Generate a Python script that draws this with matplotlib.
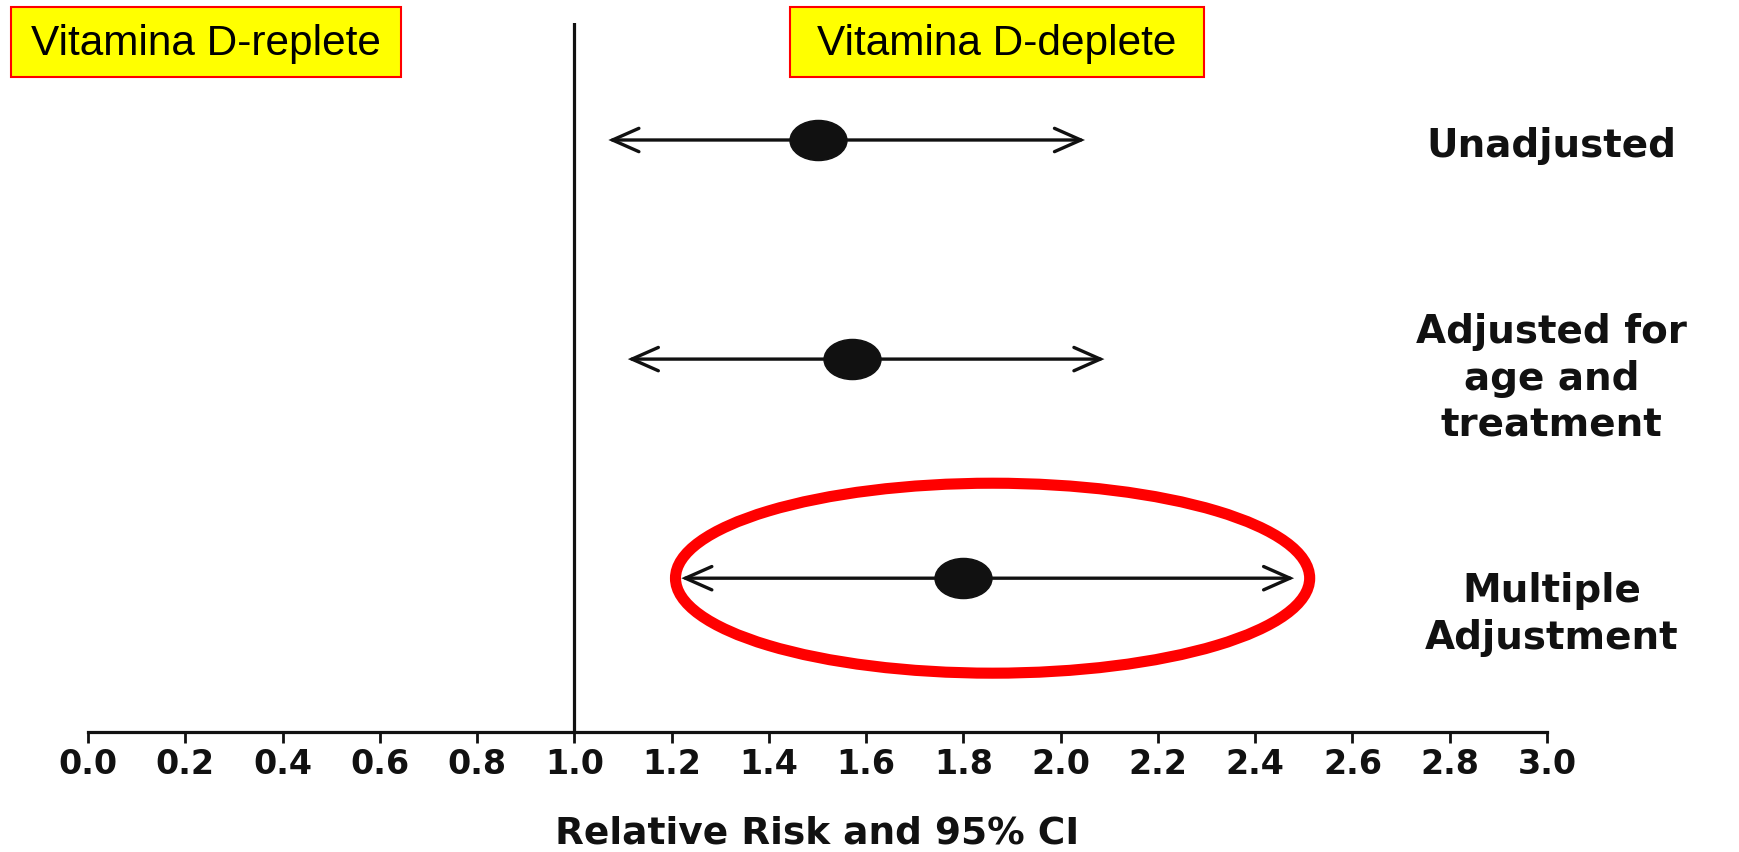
import matplotlib
matplotlib.use("Agg")
import matplotlib.pyplot as plt
from matplotlib.patches import Ellipse, Rectangle, FancyArrowPatch
from matplotlib.path import Path
from matplotlib.transforms import Affine2D

# ---- data ----
row_labels = ["Unadjusted", "Adjusted for\nage and\ntreatment", "Multiple\nAdjustment"]
rr = [1.50, 1.57, 1.80]
ci_low = [1.07, 1.11, 1.22]
ci_high = [2.05, 2.09, 2.48]
xticks = [0.0, 0.2, 0.4, 0.6, 0.8, 1.0, 1.2, 1.4, 1.6, 1.8, 2.0, 2.2, 2.4, 2.6, 2.8, 3.0]
xtick_labels = ["%.1f" % t for t in xticks]
ref_value = 1.0
left_box = "Vitamina D-replete"
right_box = "Vitamina D-deplete"
xlabel = "Relative Risk and 95% CI"

W, H = 1739, 853
fig = plt.figure(figsize=(W / 100, H / 100), dpi=100)
ax = fig.add_axes([88 / W, 1 - 733 / H, (1547 - 88) / W, (733 - 24) / H])

ypos = [3, 2, 1]
ax.set_xlim(0, 3)
ax.set_ylim(0.298, 3.534)

# reference line
ax.axvline(ref_value, color="#111111", lw=2.3, zorder=1)

# CI arrows
for y, lo, hi in zip(ypos, ci_low, ci_high):
    arr = FancyArrowPatch((lo, y), (hi, y), arrowstyle="<->,head_length=0.95,head_width=0.42",
                          mutation_scale=20, color="#111111", lw=2.4, shrinkA=0, shrinkB=0,
                          joinstyle="miter", zorder=2)
    ax.add_patch(arr)

# point estimates (slightly wide dots)
circ = Path.unit_circle()
wide_dot = Path(Affine2D().scale(1.42, 1.0).transform(circ.vertices), circ.codes)
ax.plot(rr, ypos, linestyle="none", marker=wide_dot, ms=41, color="#111111", zorder=3)

# red highlight ellipse around the last row
ax.add_patch(Ellipse((1.86, ypos[2]), width=1.304, height=0.867, fill=False,
                     edgecolor="#ff0000", lw=8, zorder=4))

# row labels
label_offsets = [-0.025, -0.085, -0.159]
for y, lab, off in zip(ypos, row_labels, label_offsets):
    ax.text(3.01, y + off, lab, ha="center", va="center", fontsize=28, fontweight="bold",
            family="DejaVu Sans", color="#111111", linespacing=1.3, clip_on=False)

# axes styling
for s in ["top", "right", "left"]:
    ax.spines[s].set_visible(False)
ax.spines["bottom"].set_linewidth(2.3)
ax.spines["bottom"].set_color("#111111")
ax.set_yticks([])
ax.set_xticks(xticks)
ax.set_xticklabels(xtick_labels, fontsize=24, fontweight="bold", family="DejaVu Sans", color="#111111")
ax.tick_params(axis="x", direction="out", length=8, width=2, color="#111111", pad=3)
ax.set_xlabel(xlabel, fontsize=27, fontweight="bold", family="DejaVu Sans", color="#111111", labelpad=25)

# yellow boxes
for (x0, x1), txt in zip([(11, 401), (790, 1204)], [left_box, right_box]):
    fig.patches.append(Rectangle((x0 / W, 1 - 78 / H), (x1 - x0) / W, 70 / H,
                                 transform=fig.transFigure, facecolor="#ffff00",
                                 edgecolor="#ff0000", lw=1.5))
    fig.text((x0 + x1) / 2 / W, 1 - 44 / H, txt, ha="center", va="center",
             fontsize=30.5, family="Liberation Sans", color="black")

fig.savefig("out.png", dpi=100)
